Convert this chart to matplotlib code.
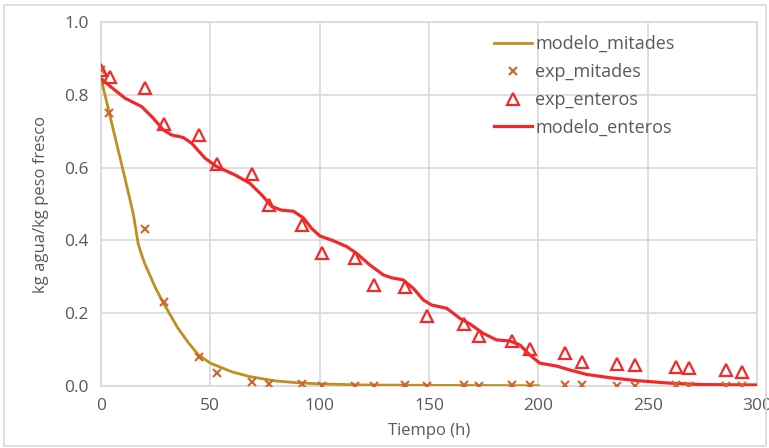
import numpy as np
import matplotlib.pyplot as plt
from matplotlib.patches import Rectangle

plt.rcParams['font.family'] = ['Open Sans', 'DejaVu Sans']

# tiempos de muestreo (h)
t_exp = [0, 4, 20, 29, 45, 53, 69, 77, 92, 101, 116, 125, 139, 149,
         166, 173, 188, 196, 212, 220, 236, 244, 263, 269, 286, 293]
t_exp_mit = [0, 3.5, 20, 29, 45, 53, 69, 77, 92, 101, 116, 125, 139, 149,
             166, 173, 188, 196, 212, 220, 236, 244, 263, 269, 286, 293]

exp_mitades = [0.87, 0.75, 0.43, 0.23, 0.08, 0.034, 0.010, 0.006, 0.006, 0.0,
               0.0, 0.0, 0.003, 0.0, 0.001, 0.0, 0.002, 0.002, 0.003, 0.003,
               0.0, 0.0, 0.003, 0.0, 0.0, 0.0]
exp_enteros = [0.87, 0.85, 0.82, 0.72, 0.69, 0.61, 0.582, 0.497, 0.442, 0.364,
               0.352, 0.277, 0.272, 0.192, 0.170, 0.137, 0.124, 0.102, 0.089,
               0.065, 0.059, 0.056, 0.052, 0.049, 0.042, 0.037]

# curvas del modelo
t_mod_mit = [0, 5, 10, 13.3, 15, 17, 18.6, 20, 25, 28.5, 35, 40, 44.5, 50,
             60, 68, 80, 90, 100, 120, 150, 200]
modelo_mitades = [0.846, 0.72, 0.595, 0.511, 0.465, 0.39, 0.36, 0.336, 0.268,
                  0.228, 0.160, 0.118, 0.085, 0.062, 0.038, 0.025, 0.013,
                  0.008, 0.005, 0.002, 0.001, 0.0]

t_mod_ent = [0, 5, 11, 18.6, 23.9, 28.5, 32.3, 37.6, 41.5, 47.6, 52.9, 61.3,
             68.1, 73.5, 78.1, 82.6, 88, 92.5, 96.3, 100.1, 106.2, 112.3,
             116.9, 123, 129.1, 132.9, 138.2, 142.8, 147.4, 151.2, 158.1,
             164.2, 168.7, 174.8, 180.9, 187, 191.6, 196.2, 200.7, 208.4,
             214.5, 222.1, 232.7, 244.9, 260.2, 275.4, 300]
modelo_enteros = [0.845, 0.82, 0.791, 0.768, 0.736, 0.704, 0.690, 0.683,
                  0.667, 0.626, 0.603, 0.580, 0.557, 0.525, 0.493, 0.483,
                  0.480, 0.462, 0.433, 0.412, 0.399, 0.383, 0.364, 0.332,
                  0.305, 0.297, 0.291, 0.268, 0.236, 0.222, 0.213, 0.185,
                  0.170, 0.144, 0.126, 0.123, 0.112, 0.084, 0.062, 0.054,
                  0.043, 0.031, 0.022, 0.014, 0.007, 0.003, 0.002]

gris = '#595959'
rejilla = '#d9d9d9'

fig = plt.figure(figsize=(7.69, 4.48), dpi=100)
ax = fig.add_axes([101 / 769, 1 - 385.7 / 448, 656 / 769, 363.4 / 448])

ax.plot(t_mod_mit, modelo_mitades, color='#bf8f22', lw=2.0, label='modelo_mitades',
        zorder=3, solid_joinstyle='round')
ax.plot(t_exp_mit, exp_mitades, ls='none', marker='x', ms=6, mew=1.5,
        color='#d0662e', label='exp_mitades', zorder=4)
ax.plot(t_exp, exp_enteros, ls='none', marker='^', ms=9, mew=1.6,
        mfc='none', mec='#f02a2a', label='exp_enteros', zorder=4)
ax.plot(t_mod_ent, modelo_enteros, color='#f02a2a', lw=2.3, label='modelo_enteros',
        zorder=3, solid_joinstyle='round')

ax.set_xlim(0, 300)
ax.set_ylim(0, 1.0)
ax.set_xticks(np.arange(0, 301, 50))
ax.set_yticks(np.arange(0, 1.01, 0.2))
ax.set_yticklabels([f'{v:.1f}' for v in np.arange(0, 1.01, 0.2)])
ax.grid(True, color=rejilla, lw=1.2)
ax.set_axisbelow(True)
for s in ax.spines.values():
    s.set_color(rejilla)
    s.set_linewidth(1.2)
ax.tick_params(length=0, labelsize=12.5, colors=gris, pad=9)
ax.set_xlabel('Tiempo (h)', fontsize=12, color=gris, labelpad=6)
ax.set_ylabel('kg agua/kg peso fresco', fontsize=12, color=gris, labelpad=11)

leg = ax.legend(loc='upper left', bbox_to_anchor=(0.588, 0.985), frameon=False,
                fontsize=13, handlelength=2.1, handletextpad=0.2,
                labelspacing=0.55, borderaxespad=0)
for txt in leg.get_texts():
    txt.set_color(gris)

# marco exterior del grafico
fig.patches.append(Rectangle((4 / 769, 2 / 448), 762 / 769, 441 / 448,
                             transform=fig.transFigure, fill=False,
                             ec=rejilla, lw=1.2))

fig.savefig('out.png', dpi=100)
